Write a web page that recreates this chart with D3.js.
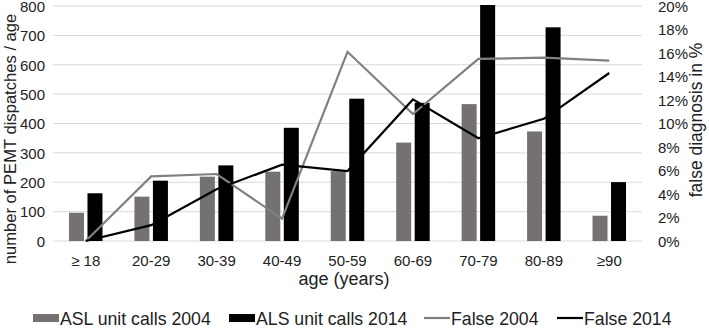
<!DOCTYPE html>
<html>
<head>
<meta charset="utf-8">
<script src="https://cdn.jsdelivr.net/npm/d3@7"></script>
<style>
  body { margin: 0; background: #fff; }
  text { font-family: "Liberation Sans", Arial, sans-serif; fill: #222; }
</style>
</head>
<body>
<div id="chart"></div>
<script>
const ageGroups = ["≥ 18", "20-29", "30-39", "40-49", "50-59", "60-69", "70-79", "80-89", "≥90"];
const aslCalls2004 = [96, 151, 219, 236, 238, 335, 466, 373, 86];
const alsCalls2014 = [159, 202, 254, 382, 481, 467, 802, 724, 197];
const false2004 = [0, 5.5, 5.7, 1.9, 16.1, 10.8, 15.5, 15.6, 15.35];
const false2014 = [0, 1.35, 4.4, 6.5, 5.95, 12.05, 8.75, 10.4, 14.3];
const leftTicks = d3.range(0, 801, 100);
const rightTicks = d3.range(0, 21, 2);

const width = 709, height = 328;
const margin = { left: 53, right: 67, top: 6, bottom: 87 };
const font = "'Liberation Sans', Arial, sans-serif";

const svg = d3.select("#chart").append("svg")
  .attr("width", width).attr("height", height);

const x = d3.scaleBand().domain(ageGroups)
  .range([margin.left, width - margin.right]);
const yL = d3.scaleLinear().domain([0, 800])
  .range([height - margin.bottom, margin.top]);
const yR = d3.scaleLinear().domain([0, 20])
  .range([height - margin.bottom, margin.top]);

// gridlines
svg.append("g")
  .selectAll("line").data(leftTicks).enter().append("line")
  .attr("x1", margin.left).attr("x2", width - margin.right)
  .attr("y1", d => yL(d)).attr("y2", d => yL(d))
  .attr("stroke", "#d9d9d9").attr("stroke-width", 1);

function styleAxis(g) {
  g.select(".domain").remove();
  g.attr("font-family", font).attr("font-size", 15);
  g.selectAll("text").attr("fill", "#222");
}

// left axis
svg.append("g")
  .attr("transform", `translate(${margin.left - 8},0.5)`)
  .call(d3.axisLeft(yL).tickValues(leftTicks).tickSize(0).tickPadding(0))
  .call(styleAxis);

// right axis
svg.append("g")
  .attr("transform", `translate(${width - margin.right + 16},0.5)`)
  .call(d3.axisRight(yR).tickValues(rightTicks).tickSize(0).tickPadding(0)
    .tickFormat(d => d + "%"))
  .call(styleAxis);

// bottom axis
svg.append("g")
  .attr("transform", `translate(0,${height - margin.bottom + 14})`)
  .call(d3.axisBottom(x).tickSize(0).tickPadding(0))
  .call(styleAxis);

// bars
const barW = 15, gap = 3.5;
const groups = svg.append("g").selectAll("g").data(ageGroups).enter().append("g");
groups.append("rect")
  .attr("x", d => x(d) + x.bandwidth() / 2 - gap / 2 - barW)
  .attr("width", barW)
  .attr("y", (d, i) => yL(aslCalls2004[i]))
  .attr("height", (d, i) => yL(0) - yL(aslCalls2004[i]))
  .attr("fill", "#767171");
groups.append("rect")
  .attr("x", d => x(d) + x.bandwidth() / 2 + gap / 2)
  .attr("width", barW)
  .attr("y", (d, i) => yL(Math.min(alsCalls2014[i], 800)) - 1)
  .attr("height", (d, i) => yL(0) - yL(Math.min(alsCalls2014[i], 800)) + 1)
  .attr("fill", "#000");

// lines
const line = d3.line()
  .x((d, i) => x(ageGroups[i]) + x.bandwidth() / 2)
  .y(d => yR(d));
svg.append("path").datum(false2004).attr("d", line)
  .attr("fill", "none").attr("stroke", "#808080").attr("stroke-width", 2.2);
svg.append("path").datum(false2014).attr("d", line)
  .attr("fill", "none").attr("stroke", "#000").attr("stroke-width", 2.2);

// axis titles
svg.append("text")
  .attr("transform", "translate(16,139) rotate(-90)")
  .attr("text-anchor", "middle").style("font-size", "16.6px")
  .text("number of PEMT dispatches / age");
svg.append("text")
  .attr("transform", "translate(702,120) rotate(-90)")
  .attr("text-anchor", "middle").style("font-size", "17.5px")
  .text("false diagnosis in %");
svg.append("text")
  .attr("x", 344).attr("y", 285)
  .attr("text-anchor", "middle").style("font-size", "18px")
  .text("age (years)");

// legend
const legendItems = [
  { label: "ASL unit calls 2004", color: "#767171", type: "rect", x: 33 },
  { label: "ALS unit calls 2014", color: "#000", type: "rect", x: 229 },
  { label: "False 2004", color: "#808080", type: "line", x: 424 },
  { label: "False 2014", color: "#000", type: "line", x: 557 }
];
const legend = svg.append("g").selectAll("g").data(legendItems).enter().append("g")
  .attr("transform", d => `translate(${d.x},318)`);
legend.filter(d => d.type === "rect").append("rect")
  .attr("x", 0).attr("y", -4).attr("width", 26).attr("height", 8)
  .attr("fill", d => d.color);
legend.filter(d => d.type === "line").append("line")
  .attr("x1", 0).attr("x2", 26).attr("y1", 0).attr("y2", 0)
  .attr("stroke", d => d.color).attr("stroke-width", 2.2);
legend.append("text")
  .attr("x", 27).attr("y", 6.5)
  .style("font-size", "17.7px")
  .text(d => d.label);
</script>
</body>
</html>
